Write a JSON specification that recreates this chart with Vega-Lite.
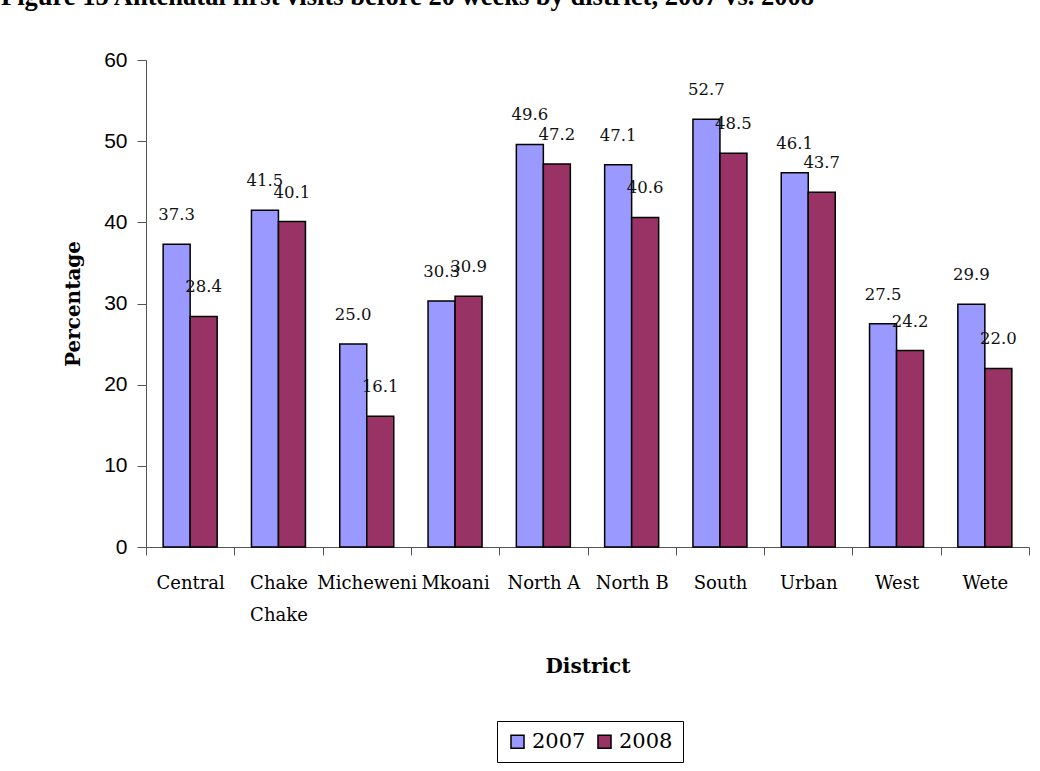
{
  "$schema": "https://vega.github.io/schema/vega-lite/v6.json",
  "width": 883,
  "height": 487,
  "autosize": {"type": "none"},
  "padding": {"left": 146, "top": 60, "right": 11, "bottom": 224},
  "background": "white",
  "title": {
    "text": "Figure 15 Antenatal first visits before 20 weeks by district, 2007 vs. 2008",
    "anchor": "start",
    "frame": "group",
    "font": "Liberation Serif",
    "fontSize": 26.5,
    "fontWeight": "bold",
    "color": "black",
    "dx": -145,
    "dy": 2,
    "baseline": "alphabetic",
    "offset": 20
  },
  "data": {
    "values": [
      {"district": "Central", "year": "2007", "value": 37.3},
      {"district": "Central", "year": "2008", "value": 28.4},
      {"district": "Chake Chake", "year": "2007", "value": 41.5},
      {"district": "Chake Chake", "year": "2008", "value": 40.1},
      {"district": "Micheweni", "year": "2007", "value": 25.0},
      {"district": "Micheweni", "year": "2008", "value": 16.1},
      {"district": "Mkoani", "year": "2007", "value": 30.3},
      {"district": "Mkoani", "year": "2008", "value": 30.9},
      {"district": "North A", "year": "2007", "value": 49.6},
      {"district": "North A", "year": "2008", "value": 47.2},
      {"district": "North B", "year": "2007", "value": 47.1},
      {"district": "North B", "year": "2008", "value": 40.6},
      {"district": "South", "year": "2007", "value": 52.7},
      {"district": "South", "year": "2008", "value": 48.5},
      {"district": "Urban", "year": "2007", "value": 46.1},
      {"district": "Urban", "year": "2008", "value": 43.7},
      {"district": "West", "year": "2007", "value": 27.5},
      {"district": "West", "year": "2008", "value": 24.2},
      {"district": "Wete", "year": "2007", "value": 29.9},
      {"district": "Wete", "year": "2008", "value": 22.0}
    ]
  },
  "encoding": {
    "x": {
      "field": "district",
      "type": "nominal",
      "sort": null,
      "scale": {"paddingInner": 0, "paddingOuter": 0},
      "axis": {
        "title": "District",
        "labelAngle": 0,
        "tickBand": "extent",
        "labelFont": "DejaVu Serif",
        "labelFontSize": 18,
        "labelColor": "black",
        "labelPadding": 19,
        "labelLineHeight": 32,
        "labelExpr": "datum.label == 'Chake Chake' ? ['Chake', 'Chake'] : datum.label",
        "tickSize": 8,
        "tickColor": "#555",
        "domainColor": "#555",
        "titleFont": "DejaVu Serif",
        "titleFontSize": 20,
        "titleFontWeight": "bold",
        "titleColor": "black",
        "titlePadding": 32
      }
    },
    "xOffset": {
      "field": "year",
      "type": "nominal",
      "scale": {"paddingInner": 0, "paddingOuter": 0.635}
    },
    "y": {
      "field": "value",
      "type": "quantitative",
      "scale": {"domain": [0, 60], "nice": false},
      "axis": {
        "title": "Percentage",
        "values": [0, 10, 20, 30, 40, 50, 60],
        "grid": false,
        "labelFont": "Liberation Sans",
        "labelFontSize": 21,
        "labelColor": "black",
        "labelPadding": 10,
        "tickSize": 9,
        "tickColor": "#555",
        "domainColor": "#555",
        "titleFont": "DejaVu Serif",
        "titleFontSize": 20,
        "titleFontWeight": "bold",
        "titleColor": "black",
        "titlePadding": 20
      }
    }
  },
  "layer": [
    {
      "mark": {"type": "bar", "stroke": "black", "strokeWidth": 1.5},
      "encoding": {
        "color": {
          "field": "year",
          "type": "nominal",
          "scale": {"domain": ["2007", "2008"], "range": ["#9999FF", "#993366"]},
          "legend": {
            "title": null,
            "orient": "none",
            "legendX": 351,
            "legendY": 661,
            "direction": "horizontal",
            "strokeColor": "black",
            "fillColor": "white",
            "padding": 10,
            "symbolType": "square",
            "symbolSize": 170,
            "symbolStrokeColor": "black",
            "symbolStrokeWidth": 1.5,
            "symbolOpacity": 1,
            "labelFont": "DejaVu Serif",
            "labelFontSize": 21,
            "labelColor": "black",
            "labelOffset": 4,
            "columnPadding": 8
          }
        }
      }
    },
    {
      "mark": {
        "type": "text",
        "baseline": "middle",
        "dy": -29,
        "font": "DejaVu Serif",
        "fontSize": 16.5,
        "color": "#111"
      },
      "encoding": {
        "text": {"field": "value", "type": "quantitative", "format": ".1f"}
      }
    }
  ],
  "config": {
    "view": {"stroke": null}
  }
}
